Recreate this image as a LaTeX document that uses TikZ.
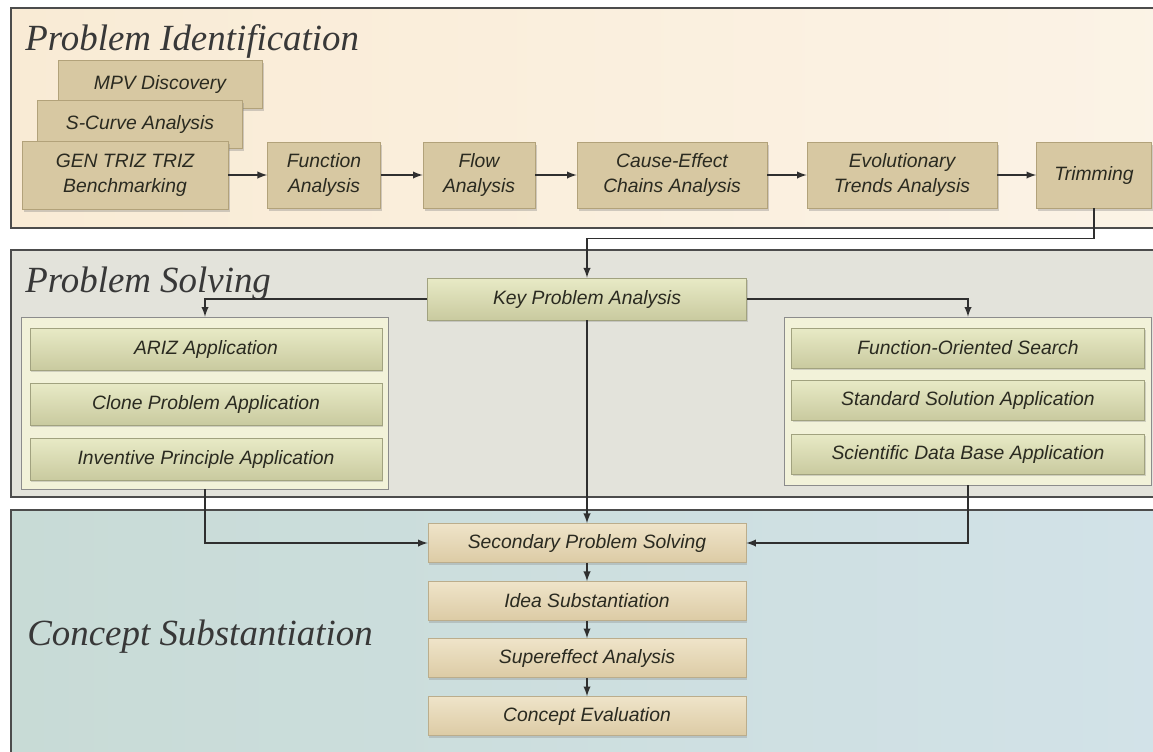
\documentclass[tikz,border=0pt]{standalone}
\usepackage{fontspec}
\newfontfamily\boxfont{Liberation Sans}
\newfontfamily\phasefont{Liberation Serif}
\usetikzlibrary{shadows}

\definecolor{pidfill}{HTML}{F9EBD5}
\definecolor{psfill}{HTML}{E3E3DB}
\definecolor{csleft}{HTML}{C8DBD6}
\definecolor{csright}{HTML}{D2E2E8}
\definecolor{tanfill}{HTML}{D7C8A2}
\definecolor{tanline}{HTML}{B2A27A}
\definecolor{greentop}{HTML}{E8EAC6}
\definecolor{greenbot}{HTML}{C9CA9F}
\definecolor{grpfill}{HTML}{F2F2D9}
\definecolor{peachtop}{HTML}{EFE4C9}
\definecolor{peachbot}{HTML}{DCCBA5}
\definecolor{inktext}{HTML}{2A2A20}
\definecolor{wire}{HTML}{2F2F2F}

\tikzset{
  panel/.style={draw=black!70,line width=1.1pt},
  phase/.style={font=\phasefont\itshape\fontsize{21}{24}\selectfont,text=black!78,inner sep=0pt},
  boxtext/.style={font=\boxfont\itshape\fontsize{11}{14}\selectfont,text=inktext,align=center,inner sep=0pt},
  tanbox/.style={boxtext,draw=tanline,fill=tanfill,
    drop shadow={shadow xshift=1pt,shadow yshift=-1.5pt,opacity=.35}},
  greenbox/.style={boxtext,draw=greenbot!80!black,top color=greentop,bottom color=greenbot,
    drop shadow={shadow xshift=.8pt,shadow yshift=-1.2pt,opacity=.3}},
  peachbox/.style={boxtext,draw=peachbot!85!black,top color=peachtop,bottom color=peachbot,
    drop shadow={shadow xshift=.8pt,shadow yshift=-1.2pt,opacity=.3}},
  group/.style={draw=black!45,fill=grpfill,inner sep=0pt},
  link/.style={draw=wire,line width=.9pt}
}

\begin{document}
\begin{tikzpicture}[x=0.02cm,y=-0.02cm,>=latex]
\clip (0,0) rectangle (1153,751);
\fill[white] (0,0) rectangle (1153,751);

% the three phases
\draw[panel,left color=pidfill,right color=pidfill!60!white] (11,8) rectangle (1165,228);
\draw[panel,fill=psfill] (11,250) rectangle (1165,497);
\draw[panel,left color=csleft,right color=csright] (11,510) rectangle (1165,770);
\node[phase,anchor=base west] (tpi) at (25,50) {Problem Identification};
\node[phase,anchor=base west] (tps) at (25,292) {Problem Solving};
\node[phase,anchor=base west] (tcs) at (27,645) {Concept Substantiation};

% problem identification
\node[tanbox,minimum width=4.08cm,minimum height=0.96cm] (mpv) at (160,84) {MPV Discovery};
\node[tanbox,minimum width=4.10cm,minimum height=0.96cm] (scurve) at (140,124) {S-Curve Analysis};
\node[tanbox,minimum width=4.12cm,minimum height=1.36cm] (gen) at (125,175) {GEN TRIZ TRIZ\\Benchmarking};
\node[tanbox,minimum width=2.26cm,minimum height=1.32cm] (func) at (324,175) {Function\\Analysis};
\node[tanbox,minimum width=2.24cm,minimum height=1.32cm] (flow) at (479,175) {Flow\\Analysis};
\node[tanbox,minimum width=3.80cm,minimum height=1.32cm] (cause) at (672,175) {Cause-Effect\\Chains Analysis};
\node[tanbox,minimum width=3.80cm,minimum height=1.32cm] (evol) at (902,175) {Evolutionary\\Trends Analysis};
\node[tanbox,minimum width=2.30cm,minimum height=1.32cm] (trim) at (1094,175) {Trimming};
\draw[link,->] (gen) -- (func);
\draw[link,->] (func) -- (flow);
\draw[link,->] (flow) -- (cause);
\draw[link,->] (cause) -- (evol);
\draw[link,->] (evol) -- (trim);

% problem solving
\node[greenbox,minimum width=6.38cm,minimum height=0.84cm] (key) at (587,299) {Key Problem Analysis};
\node[group,minimum width=7.34cm,minimum height=3.44cm] (lgrp) at (205,403) {};
\node[group,minimum width=7.34cm,minimum height=3.36cm] (rgrp) at (968,401) {};
\node[greenbox,minimum width=7.04cm,minimum height=0.84cm] (ariz) at (206,349) {ARIZ Application};
\node[greenbox,minimum width=7.04cm,minimum height=0.84cm] (clone) at (206,404) {Clone Problem Application};
\node[greenbox,minimum width=7.04cm,minimum height=0.84cm] (inv) at (206,459) {Inventive Principle Application};
\node[greenbox,minimum width=7.06cm,minimum height=0.80cm] (fos) at (968,348) {Function-Oriented Search};
\node[greenbox,minimum width=7.06cm,minimum height=0.80cm] (std) at (968,400) {Standard Solution Application};
\node[greenbox,minimum width=7.06cm,minimum height=0.80cm] (sdb) at (968,454) {Scientific Data Base Application};
\draw[link,->] (trim.south) -- ++(0,30) -| (key.north);
\draw[link,->] (key.west) -| (lgrp.north);
\draw[link,->] (key.east) -| (rgrp.north);

% concept substantiation
\node[peachbox,minimum width=6.36cm,minimum height=0.78cm] (sec) at (587,543) {Secondary Problem Solving};
\node[peachbox,minimum width=6.36cm,minimum height=0.78cm] (idea) at (587,601) {Idea Substantiation};
\node[peachbox,minimum width=6.36cm,minimum height=0.78cm] (super) at (587,658) {Supereffect Analysis};
\node[peachbox,minimum width=6.36cm,minimum height=0.78cm] (ceval) at (587,716) {Concept Evaluation};
\draw[link,->] (key) -- (sec);
\draw[link,->] (lgrp.south) |- (sec.west);
\draw[link,->] (rgrp.south) |- (sec.east);
\draw[link,->] (sec) -- (idea);
\draw[link,->] (idea) -- (super);
\draw[link,->] (super) -- (ceval);
\end{tikzpicture}
\end{document}
